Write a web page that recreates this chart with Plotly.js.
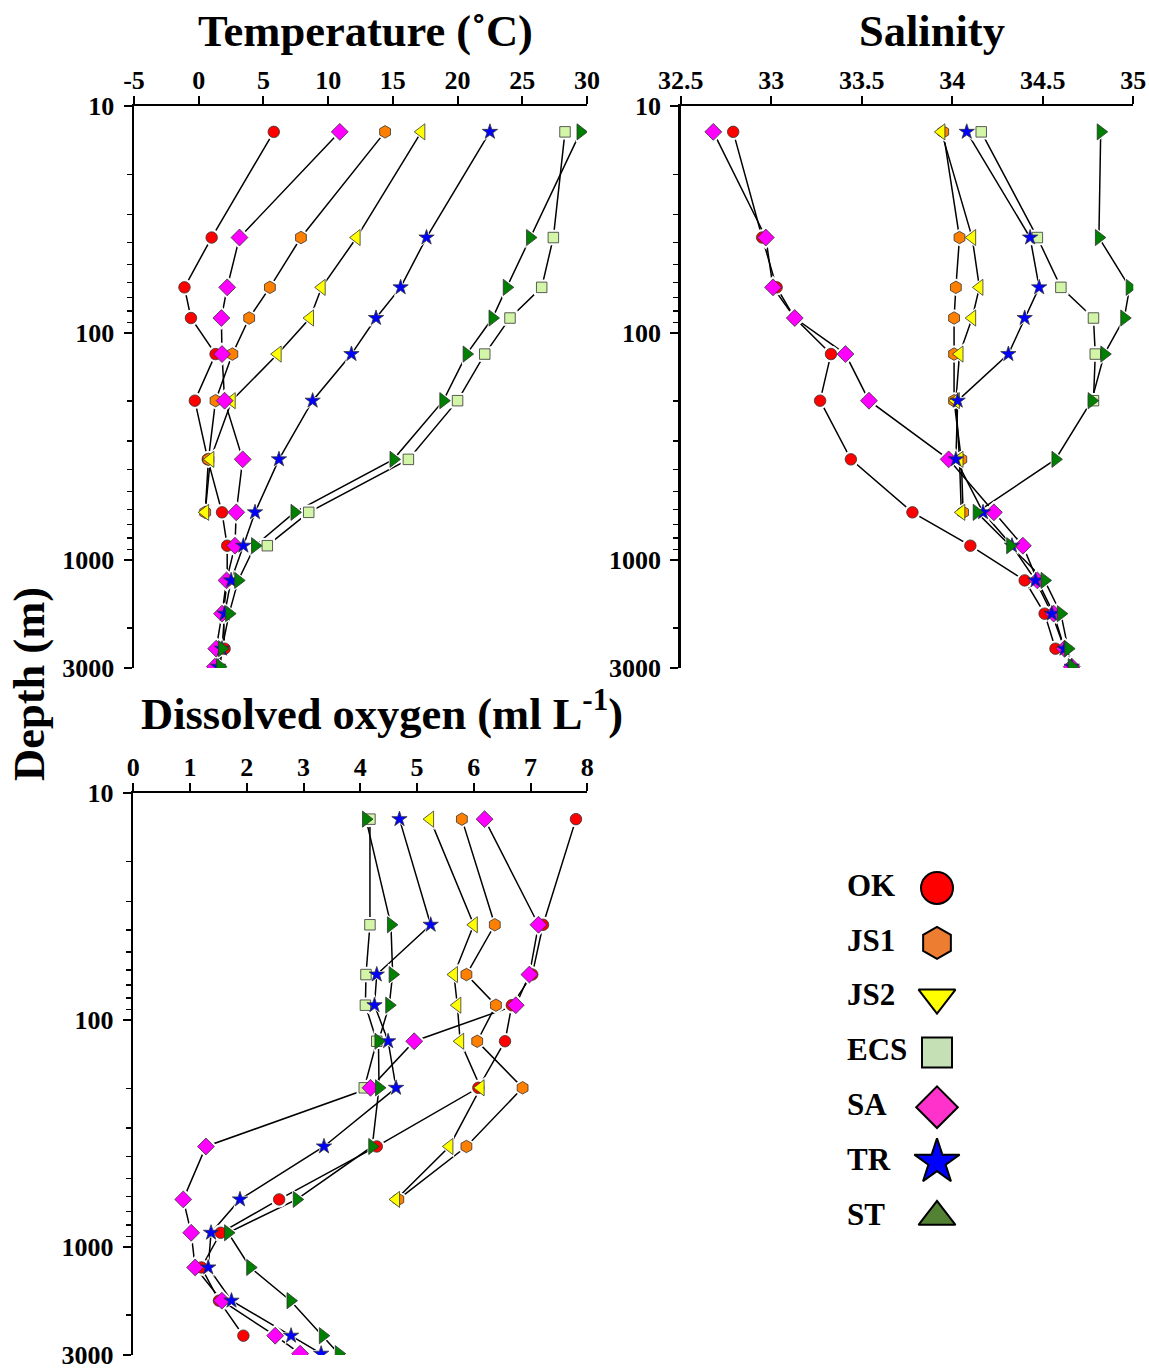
<!DOCTYPE html>
<html>
<head>
<meta charset="utf-8">
<script src="https://cdn.plot.ly/plotly-3.0.1.min.js"></script>
<style>html,body{margin:0;padding:0;background:#fff;}#chart{width:1149px;height:1369px;}</style>
</head>
<body>
<div id="chart"></div>
<script>
// ---------- data ----------
const stations = ['OK', 'JS1', 'JS2', 'ECS', 'SA', 'TR', 'ST'];
const depth = [13, 38, 63, 86, 124, 199, 361, 618, 867, 1233, 1728, 2466, 2960];

const temperature = {
  OK:  [5.8, 1.0, -1.1, -0.6, 1.3, -0.3, 0.7, 1.8, 2.2, 2.2, 1.9, 2.0, null],
  JS1: [14.4, 7.9, 5.5, 3.9, 2.6, 1.3, 0.75, 0.5, null, null, null, null, null],
  JS2: [17.2, 12.2, 9.5, 8.6, 6.1, 2.55, 0.9, 0.5, null, null, null, null, null],
  ECS: [28.3, 27.4, 26.5, 24.05, 22.1, 20.0, 16.2, 8.5, 5.3, null, null, null, null],
  SA:  [10.9, 3.15, 2.2, 1.75, 1.8, 2.0, 3.4, 2.9, 2.8, 2.15, 1.8, 1.35, 1.25],
  TR:  [22.5, 17.6, 15.6, 13.7, 11.8, 8.8, 6.2, 4.35, 3.45, 2.5, 2.0, 1.8, 1.5],
  ST:  [29.5, 25.6, 23.8, 22.7, 20.7, 18.9, 15.05, 7.4, 4.35, 3.05, 2.35, 1.8, 1.65]
};
const salinity = {
  OK:  [32.79, 32.95, 33.03, 33.13, 33.33, 33.27, 33.44, 33.78, 34.10, 34.40, 34.51, 34.57, null],
  JS1: [33.95, 34.04, 34.02, 34.01, 34.01, 34.01, 34.05, 34.06, null, null, null, null, null],
  JS2: [33.94, 34.11, 34.15, 34.11, 34.04, 34.02, 34.04, 34.05, null, null, null, null, null],
  ECS: [34.16, 34.47, 34.60, 34.78, 34.79, 34.78, null, null, null, null, null, null, null],
  SA:  [32.68, 32.97, 33.01, 33.13, 33.41, 33.54, 33.98, 34.23, 34.39, 34.47, 34.56, 34.62, 34.66],
  TR:  [34.08, 34.43, 34.48, 34.40, 34.31, 34.03, 34.02, 34.17, 34.33, 34.46, 34.55, 34.62, 34.66],
  ST:  [34.82, 34.81, 34.98, 34.95, 34.84, 34.77, 34.57, 34.135, 34.32, 34.51, 34.60, 34.64, 34.66]
};
const oxygen = {
  OK:  [7.80, 7.22, 7.03, 6.67, 6.55, 6.08, 4.29, 2.57, 1.54, 1.20, 1.51, 1.94, null],
  JS1: [5.79, 6.37, 5.87, 6.39, 6.06, 6.86, 5.87, 4.67, null, null, null, null, null],
  JS2: [5.23, 6.00, 5.65, 5.71, 5.76, 6.12, 5.57, 4.63, null, null, null, null, null],
  ECS: [4.17, 4.17, 4.10, 4.09, 4.29, 4.07, null, null, null, null, null, null, null],
  SA:  [6.19, 7.14, 6.98, 6.74, 4.95, 4.18, 1.28, 0.88, 1.02, 1.09, 1.56, 2.50, 2.94],
  TR:  [4.69, 5.24, 4.29, 4.25, 4.49, 4.63, 3.36, 1.88, 1.37, 1.32, 1.73, 2.78, 3.31],
  ST:  [4.10, 4.54, 4.57, 4.51, 4.32, 4.33, 4.21, 2.88, 1.67, 2.06, 2.77, 3.34, 3.62]
};

const tempTicks = [-5, 0, 5, 10, 15, 20, 25, 30];
const tempTickText = ['-5', '0', '5', '10', '15', '20', '25', '30'];
const salTicks = [32.5, 33, 33.5, 34, 34.5, 35];
const salTickText = ['32.5', '33', '33.5', '34', '34.5', '35'];
const oxyTicks = [0, 1, 2, 3, 4, 5, 6, 7, 8];
const oxyTickText = ['0', '1', '2', '3', '4', '5', '6', '7', '8'];
const depthTicks = [10, 100, 1000, 3000];
const depthTickText = ['10', '100', '1000', '3000'];
const depthMinor = [20, 30, 40, 50, 60, 70, 80, 90, 200, 300, 400, 500, 600, 700, 800, 900, 2000];

// ---------- styles ----------
const plotStyle = {
  OK:  {symbol: 'circle', color: '#FF0000', size: 11.5},
  JS1: {symbol: 'hexagon', color: '#FF7F00', size: 12.5},
  JS2: {symbol: 'triangle-left', color: '#FFFF00', size: 14},
  ECS: {symbol: 'square', color: '#D3F5A8', size: 10.5},
  SA:  {symbol: 'diamond', color: '#FF00FF', size: 13},
  TR:  {symbol: 'star', color: '#0000FF', size: 11.5},
  ST:  {symbol: 'triangle-right', color: '#008000', size: 14}
};
const legendStyle = {
  OK:  {symbol: 'circle', color: '#FF0000', size: 32},
  JS1: {symbol: 'hexagon', color: '#ED7D31', size: 32},
  JS2: {symbol: 'triangle-down', color: '#FFFF00', size: 32},
  ECS: {symbol: 'square', color: '#C5E0B4', size: 30},
  SA:  {symbol: 'diamond', color: '#FF33CC', size: 32},
  TR:  {symbol: 'star', color: '#0000FF', size: 34},
  ST:  {symbol: 'triangle-up', color: '#548235', size: 32}
};

const W = 1149, H = 1369;
const FONT = 'Liberation Serif, Times New Roman, serif';

const panels = [
  {data: temperature, xa: 'x', ya: 'y'},
  {data: salinity, xa: 'x2', ya: 'y2'},
  {data: oxygen, xa: 'x3', ya: 'y3'}
];

const traces = [];
// lines
panels.forEach(p => stations.forEach(s => traces.push({
  type: 'scatter', mode: 'lines', x: p.data[s], y: depth, xaxis: p.xa, yaxis: p.ya,
  line: {color: '#000', width: 1.5}, hoverinfo: 'skip', showlegend: false
})));
// white halos (gap between line and symbol)
panels.forEach(p => stations.forEach(s => traces.push({
  type: 'scatter', mode: 'markers', x: p.data[s], y: depth, xaxis: p.xa, yaxis: p.ya,
  marker: {symbol: plotStyle[s].symbol, size: plotStyle[s].size + 5, color: '#fff', opacity: 1, line: {width: 0}},
  hoverinfo: 'skip', showlegend: false
})));
// symbols
panels.forEach(p => stations.forEach(s => traces.push({
  type: 'scatter', mode: 'markers', name: s, x: p.data[s], y: depth, xaxis: p.xa, yaxis: p.ya,
  marker: {symbol: plotStyle[s].symbol, size: plotStyle[s].size, color: plotStyle[s].color, opacity: 1,
           line: {color: '#333', width: 0.8}},
  showlegend: false
})));

// custom legend (text left, symbol right)
const legIdx = stations.map((s, i) => i);
traces.push({
  type: 'scatter', mode: 'markers', xaxis: 'x4', yaxis: 'y4',
  x: stations.map(() => 937), y: legIdx,
  marker: {symbol: stations.map(s => legendStyle[s].symbol),
           size: stations.map(s => legendStyle[s].size),
           color: stations.map(s => legendStyle[s].color),
           opacity: 1,
           line: {color: '#000', width: 2}},
  hoverinfo: 'skip', showlegend: false
});
traces.push({
  type: 'scatter', mode: 'text', xaxis: 'x4', yaxis: 'y4',
  x: stations.map(() => 847), y: legIdx, text: stations, textposition: 'middle right',
  textfont: {family: FONT, size: 31, color: '#000', weight: 700},
  hoverinfo: 'skip', showlegend: false
});

const tickFont = {family: FONT, size: 26, color: '#000', weight: 700};
function xAxis(dom, anchor, range, tv, tt) {
  return {domain: dom, anchor: anchor, side: 'top', range: range, tickmode: 'array', tickvals: tv, ticktext: tt,
          showline: true, linecolor: '#000', linewidth: 2.5, ticks: 'outside', ticklen: 8, tickwidth: 2,
          tickcolor: '#000', showgrid: false, zeroline: false, tickfont: tickFont, fixedrange: true,
          ticklabelstandoff: -4, ticklabeloverflow: 'allow'};
}
function yAxis(dom, anchor) {
  return {domain: dom, anchor: anchor, type: 'log', range: [Math.log10(3000), 1],
          tickmode: 'array', tickvals: depthTicks, ticktext: depthTickText,
          showline: true, linecolor: '#000', linewidth: 2.5, ticks: 'outside', ticklen: 8, tickwidth: 2,
          tickcolor: '#000', showgrid: false, zeroline: false, tickfont: tickFont, fixedrange: true,
          ticklabelstandoff: 4, ticklabeloverflow: 'allow',
          minor: {tickmode: 'array', tickvals: depthMinor, ticks: 'outside', ticklen: 5, tickwidth: 1.5, tickcolor: '#000', showgrid: false}};
}

const topDom = [1 - 668 / H, 1 - 106 / H];
const botDom = [1 - 1355 / H, 1 - 793.3 / H];

const titleFont = {family: FONT, size: 44.5, color: '#000', weight: 700};
const layout = {
  width: W, height: H,
  margin: {l: 0, r: 0, t: 0, b: 0},
  paper_bgcolor: '#fff', plot_bgcolor: 'rgba(0,0,0,0)',
  showlegend: false, hovermode: false,
  xaxis: xAxis([134 / W, 587 / W], 'y', [-5, 30], tempTicks, tempTickText),
  yaxis: yAxis(topDom, 'x'),
  xaxis2: xAxis([680.7 / W, 1133.3 / W], 'y2', [32.5, 35], salTicks, salTickText),
  yaxis2: yAxis(topDom, 'x2'),
  xaxis3: xAxis([133.3 / W, 587.3 / W], 'y3', [0, 8], oxyTicks, oxyTickText),
  yaxis3: yAxis(botDom, 'x3'),
  xaxis4: {domain: [800 / W, 1000 / W], range: [800, 1000], visible: false, fixedrange: true},
  yaxis4: {domain: [1 - 1244.2 / H, 1 - 860.6 / H], range: [6.5, -0.5], visible: false, fixedrange: true, anchor: 'x4'},
  annotations: [
    {text: 'Temperature (˚C)', xref: 'paper', yref: 'paper', x: 365 / W, y: 1 - 31 / H,
     xanchor: 'center', yanchor: 'middle', showarrow: false, font: titleFont},
    {text: 'Salinity', xref: 'paper', yref: 'paper', x: 932 / W, y: 1 - 31 / H,
     xanchor: 'center', yanchor: 'middle', showarrow: false, font: titleFont},
    {text: 'Dissolved oxygen (ml L<sup>-1</sup>)', xref: 'paper', yref: 'paper', x: 382 / W, y: 1 - 710 / H,
     xanchor: 'center', yanchor: 'middle', showarrow: false, font: titleFont},
    {text: 'Depth (m)', xref: 'paper', yref: 'paper', x: 29 / W, y: 1 - 684 / H, textangle: -90,
     xanchor: 'center', yanchor: 'middle', showarrow: false, font: titleFont}
  ]
};

Plotly.newPlot('chart', traces, layout, {displayModeBar: false, staticPlot: true});
</script>
</body>
</html>
